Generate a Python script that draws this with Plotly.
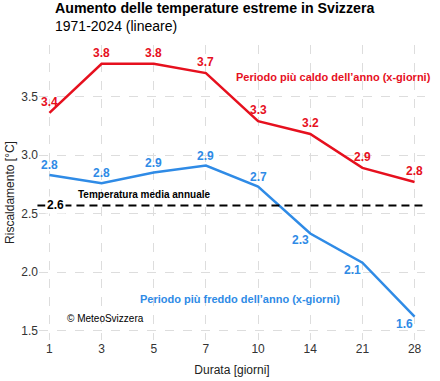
import plotly.graph_objects as go

durations = ["1", "3", "5", "7", "10", "14", "21", "28"]
warm = [3.36, 3.78, 3.78, 3.70, 3.29, 3.18, 2.89, 2.77]
warm_labels = ["3.4", "3.8", "3.8", "3.7", "3.3", "3.2", "2.9", "2.8"]
cold = [2.83, 2.76, 2.85, 2.91, 2.73, 2.33, 2.08, 1.62]
cold_labels = ["2.8", "2.8", "2.9", "2.9", "2.7", "2.3", "2.1", "1.6"]
mean_annual = 2.57
mean_label = "2.6"

RED = "#e6101e"
BLUE = "#2f8be6"
FONT = "Liberation Sans, Arial, sans-serif"

idx = list(range(len(durations)))

fig = go.Figure()
fig.add_trace(go.Scatter(x=idx, y=warm, mode="lines",
                         line=dict(color=RED, width=2.5), hoverinfo="skip"))
fig.add_trace(go.Scatter(x=idx, y=cold, mode="lines",
                         line=dict(color=BLUE, width=2.5), hoverinfo="skip"))

for i, (v, t) in enumerate(zip(warm, warm_labels)):
    fig.add_annotation(x=i, y=v, text="<b>" + t + "</b>", showarrow=False,
                       yshift=11, font=dict(size=12, color=RED, family=FONT))
for i, (v, t) in enumerate(zip(cold, cold_labels)):
    below = i >= 5
    fig.add_annotation(x=i, y=v, text="<b>" + t + "</b>", showarrow=False,
                       xshift=-10 if below else 0, yshift=-7 if below else 10,
                       font=dict(size=12, color=BLUE, family=FONT))

fig.add_shape(type="line", xref="paper", yref="y", x0=-0.004, x1=0.995,
              y0=mean_annual, y1=mean_annual,
              line=dict(color="black", width=2, dash="8px,5px"))
fig.add_annotation(x=0.12, y=mean_annual, text="<b>" + mean_label + "</b>", showarrow=False,
                   xanchor="center", bgcolor="white", borderpad=1,
                   font=dict(size=12, color="black", family=FONT))
fig.add_annotation(x=1.83, y=2.665, text="<b>Temperatura media annuale</b>",
                   showarrow=False, xanchor="center",
                   font=dict(size=10, color="black", family=FONT))
fig.add_annotation(xref="paper", x=1.02, y=3.67,
                   text="<b>Periodo più caldo dell’anno (x-giorni)</b>",
                   showarrow=False, xanchor="right",
                   font=dict(size=11, color=RED, family=FONT))
fig.add_annotation(x=1.69, y=1.77, text="<b>Periodo più freddo dell’anno (x-giorni)</b>",
                   showarrow=False, xanchor="left",
                   font=dict(size=11, color=BLUE, family=FONT))
fig.add_annotation(x=0.29, y=1.60, text="© MeteoSvizzera",
                   showarrow=False, xanchor="left",
                   font=dict(size=10, color="black", family=FONT))

# title and subtitle
fig.add_annotation(xref="paper", yref="paper", x=0.036, y=1.125, xanchor="left",
                   yanchor="middle", showarrow=False,
                   text="<b>Aumento delle temperature estreme in Svizzera</b>",
                   font=dict(size=14.2, color="black", family=FONT))
fig.add_annotation(xref="paper", yref="paper", x=0.036, y=1.064, xanchor="left",
                   yanchor="middle", showarrow=False,
                   text="1971-2024 (lineare)",
                   font=dict(size=14, color="black", family=FONT))

fig.update_layout(
    width=440, height=381,
    margin=dict(l=39, r=15, t=45, b=41, autoexpand=False),
    paper_bgcolor="white", plot_bgcolor="white",
    showlegend=False,
    font=dict(family=FONT, size=12, color="#222"),
    xaxis=dict(range=[-0.2, 7.2], tickmode="array", tickvals=idx, ticktext=durations,
               showgrid=True, gridcolor="#dddddd", griddash="dash", gridwidth=1,
               zeroline=False, showline=False, ticks="", automargin=False,
               title=dict(text="Durata [giorni]", standoff=10, font=dict(size=12, color="#222")),
               tickfont=dict(size=12, color="#333")),
    yaxis=dict(range=[1.42, 3.94], tickvals=[1.5, 2.0, 2.5, 3.0, 3.5],
               ticktext=["1.5", "2.0", "2.5", "3.0", "3.5"],
               showgrid=True, gridcolor="#dddddd", griddash="dash", gridwidth=1,
               zeroline=False, showline=False, ticks="", automargin=False,
               title=dict(text="Riscaldamento [°C]", standoff=4, font=dict(size=12, color="#222")),
               tickfont=dict(size=12, color="#333")),
)

# remove the page's default body margin so the figure sits at the window's corner
fig.write_html("out.html", config={"displayModeBar": False},
               post_script="document.body.style.margin='0';")
